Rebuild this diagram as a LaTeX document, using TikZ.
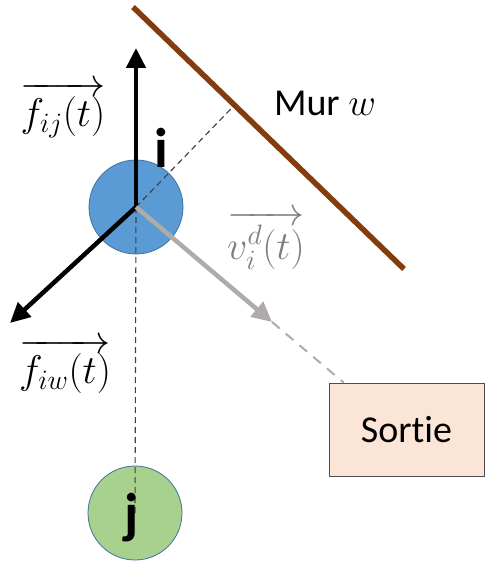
\RequirePackage{fix-cm}
\documentclass[tikz,border=0pt]{standalone}
\usepackage{amsmath}
\usepackage{fontspec}
\setmainfont{Carlito}[Ligatures=NoCommon]
\usetikzlibrary{arrows.meta,calc}
\definecolor{agentblue}{RGB}{91,155,213}
\definecolor{agentedge}{RGB}{65,113,156}
\definecolor{agentgreen}{RGB}{169,209,142}
\definecolor{murbrown}{RGB}{132,60,12}
\definecolor{vgray}{RGB}{175,171,171}
\definecolor{vtext}{RGB}{127,127,127}
\definecolor{sortiefill}{RGB}{251,229,214}

\begin{document}
\begin{tikzpicture}[x=1pt,y=-1pt,
    agent/.style={circle,draw=agentedge,line width=0.8pt,minimum size=94pt,inner sep=0pt},
    force/.style={line width=4.5pt,-{Triangle[length=20pt,width=19pt]}},
    vlabel/.style={font=\fontsize{40}{44}\selectfont},
    gap/.style={dash pattern=on 6pt off 4pt,line width=1.1pt,black!75}]
  \useasboundingbox (0,0) rectangle (486,567);
  % mur
  \draw[murbrown,line width=5.5pt] (133,7) coordinate (w1) -- (404,269) coordinate (w2);
  % pietons i et j
  \node[agent,fill=agentblue] (ni) at (136,207) {};
  \node[agent,fill=agentgreen] (nj) at (135,513) {};
  \node[draw=black!70,line width=0.8pt,fill=sortiefill,minimum width=155pt,minimum height=93pt,
    font=\fontsize{38}{42}\selectfont] (sortie) at (406.5,429.5) {Sortie};
  \coordinate (fij) at (136,48);
  \coordinate (fiw) at (10,323);
  \coordinate (vid) at (272,322);
  % distances
  \draw[gap] (ni.center) -- ($(w1)!(ni.center)!(w2)$);
  \draw[gap] (ni.center) -- (nj.center);
  \draw[vgray,line width=2pt,dash pattern=on 10pt off 8pt] (vid)
    -- (intersection of ni.center--vid and sortie.north west--sortie.north east);
  % forces
  \draw[force] (ni.center) -- (fij);
  \draw[force] (ni.center) -- (fiw);
  \draw[force,vgray] (ni.center) -- (vid);
  % textes
  \node[vlabel] (lfij) at (63,110) {$\overrightarrow{f_{ij}(t)}$};
  \node[vlabel,text=vtext] (lvid) at (266,240) {$\overrightarrow{v_i^d(t)}$};
  \node[vlabel] (lfiw) at (65,366) {$\overrightarrow{f_{iw}(t)}$};
  \node[font=\fontsize{38}{42}\selectfont] (lmur) at (325,103) {Mur $w$};
  \node[font=\fontsize{56}{60}\selectfont\bfseries] (li) at (161,148) {i};
  \node[font=\fontsize{56}{60}\selectfont\bfseries] (lj) at (132,518) {j};
\end{tikzpicture}
\end{document}
